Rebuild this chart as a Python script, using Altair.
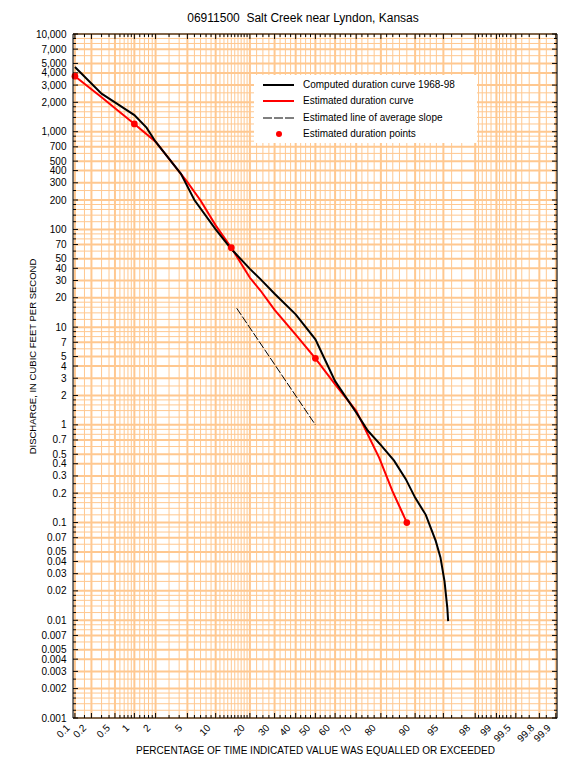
import altair as alt
import pandas as pd
from statistics import NormalDist

FONT = "Liberation Sans"
GRID = "#FFC890"

TITLE = "06911500\u00a0 Salt Creek near Lyndon, Kansas"
X_TITLE = "PERCENTAGE OF TIME INDICATED VALUE WAS EQUALLED OR EXCEEDED"
Y_TITLE = "DISCHARGE, IN CUBIC FEET PER SECOND"
legend_labels = [
    "Computed duration curve 1968-98",
    "Estimated duration curve",
    "Estimated line of average slope",
    "Estimated duration points",
]

# computed duration curve (percent exceeded, cfs)
computed_pct = [0.1, 0.3, 0.5, 1.0, 1.5, 2, 4.2, 6, 10, 14, 20, 24, 30, 40, 50, 60, 70, 75,
                80, 84.4, 87.7, 90, 92.2, 93.9, 94.6, 95.15, 95.5, 95.6]
computed_cfs = [4600, 2450, 2000, 1480, 1100, 790, 370, 200, 100, 63, 39.5, 31, 22, 13.5, 7.5,
                2.8, 1.34, 0.87, 0.62, 0.43, 0.28, 0.18, 0.12, 0.065, 0.044, 0.025, 0.0134, 0.0098]

# estimated duration curve
est_pct = [0.1, 0.3, 1, 2, 5, 7, 10, 14, 20, 24, 30, 40, 50, 60, 70, 79.4, 83.9, 86.4, 88]
est_cfs = [3700, 2250, 1200, 790, 305, 198, 110, 65, 32, 23.7, 15, 8.4, 4.8, 2.6, 1.39,
           0.46, 0.21, 0.136, 0.1]

# estimated line of average slope
slope_pct = [15.6, 50]
slope_cfs = [15.6, 1.0]

# estimated duration points
pts_pct = [0.1, 1, 14, 50, 88]
pts_cfs = [3700, 1200, 65, 4.8, 0.1]

x_major = [0.1, 0.2, 0.5, 1, 2, 5, 10, 20, 30, 40, 50, 60, 70, 80, 90, 95, 98, 99, 99.5, 99.8, 99.9]
x_minor = [0.15, 0.3, 0.4, 0.6, 0.7, 0.8, 0.9, 1.2, 1.4, 1.6, 1.8, 3, 4, 6, 7, 8, 9,
           11, 12, 13, 14, 15, 16, 17, 18, 19, 22.5, 25, 27.5, 32.5, 35, 37.5, 42.5, 45, 47.5,
           52.5, 55, 57.5, 62.5, 65, 67.5, 72.5, 75, 77.5, 82, 84, 86, 88, 91, 92, 93, 94,
           96, 97, 98.2, 98.4, 98.6, 98.8, 99.1, 99.2, 99.3, 99.4, 99.6, 99.7, 99.85]

y_major = [0.001, 0.002, 0.003, 0.004, 0.005, 0.007,
           0.01, 0.02, 0.03, 0.04, 0.05, 0.07,
           0.1, 0.2, 0.3, 0.4, 0.5, 0.7,
           1, 2, 3, 4, 5, 7,
           10, 20, 30, 40, 50, 70,
           100, 200, 300, 400, 500, 700,
           1000, 2000, 3000, 4000, 5000, 7000, 10000]
y_minor_mult = [1.2, 1.4, 1.6, 1.8, 2.5, 6, 8, 9]
y_decades = [0.001, 0.01, 0.1, 1, 10, 100, 1000]
y_minor = [m * d for d in y_decades for m in y_minor_mult]

W, H = 484, 684
nd = NormalDist()
x_major_z = [nd.inv_cdf(p / 100) for p in x_major]

XS = alt.Scale(domain=[-3.115, 3.105], nice=False, zero=False)
YS = alt.Scale(type="log", domain=[0.001, 10000], nice=False)
ZCALC = "quantileNormal(datum.p / 100)"

x_axis = alt.Axis(
    values=x_major_z,
    labelExpr="format(cumulativeNormal(datum.value) * 100, '.3~r')",
    labelAngle=-45, labelAlign="right", labelBaseline="middle",
    labelPadding=8, tickOffset=-7,
    labelFontSize=10, labelFont=FONT, labelColor="black",
    labelOverlap=False, labelFlush=False, labelBound=False,
    grid=False, ticks=False, domain=False,
    title=X_TITLE, titleFont=FONT, titleFontSize=10, titleFontWeight="normal",
    titleColor="black", titleY=27, titleBaseline="top",
)
y_axis = alt.Axis(
    values=y_major, format=",~g",
    labelPadding=7, labelFontSize=10, labelFont=FONT, labelColor="black",
    labelOverlap=False, labelFlush=False, labelBound=False,
    grid=False, ticks=False, domain=False,
    title=Y_TITLE, titleFont=FONT, titleFontSize=9.5, titleFontWeight="normal",
    titleColor="black", titleX=-36, titleY=322, titleAngle=-90, titleBaseline="bottom",
    titleAlign="center",
)


def XE():
    return alt.X("z:Q", scale=XS, axis=x_axis)


def YE():
    return alt.Y("q:Q", scale=YS, axis=y_axis)


def pct_df(vals):
    return pd.DataFrame({"p": vals})


def xgrid(vals, width):
    return (alt.Chart(pct_df(vals)).transform_calculate(z=ZCALC)
            .mark_rule(color=GRID, strokeWidth=width)
            .encode(x=XE()))


def ygrid(vals, width):
    return (alt.Chart(pd.DataFrame({"q": vals}))
            .mark_rule(color=GRID, strokeWidth=width)
            .encode(y=YE()))


def xticks(vals, length):
    df = pct_df(vals)
    bottom = (alt.Chart(df).transform_calculate(z=ZCALC).mark_rule(color="black", strokeWidth=1)
              .encode(x=XE(), y=alt.value(H), y2=alt.value(H - length)))
    top = (alt.Chart(df).transform_calculate(z=ZCALC).mark_rule(color="black", strokeWidth=1)
           .encode(x=XE(), y=alt.value(0), y2=alt.value(length)))
    return [bottom, top]


def yticks(vals, length):
    df = pd.DataFrame({"q": vals})
    left = (alt.Chart(df).mark_rule(color="black", strokeWidth=1)
            .encode(y=YE(), x=alt.value(0), x2=alt.value(length)))
    right = (alt.Chart(df).mark_rule(color="black", strokeWidth=1)
             .encode(y=YE(), x=alt.value(W), x2=alt.value(W - length)))
    return [left, right]


def series(pcts, vals):
    return alt.Chart(pd.DataFrame({"p": pcts, "q": vals})).transform_calculate(z=ZCALC)


computed = series(computed_pct, computed_cfs).mark_line(color="black", strokeWidth=2).encode(
    x=XE(), y=YE(), order="p:Q")
estimated = series(est_pct, est_cfs).mark_line(color="#FF0000", strokeWidth=2).encode(
    x=XE(), y=YE(), order="p:Q")
slope = series(slope_pct, slope_cfs).mark_line(color="black", strokeWidth=1, strokeDash=[8, 2]).encode(
    x=XE(), y=YE())
points = series(pts_pct, pts_cfs).mark_circle(color="#FF0000", size=45, opacity=1).encode(
    x=XE(), y=YE())

one = pd.DataFrame({"k": [0]})
legend_box = alt.Chart(one).mark_rect(color="white").encode(
    x=alt.value(181), x2=alt.value(404), y=alt.value(41), y2=alt.value(109))

legend_layers = []
leg_y = [51, 67, 84, 100]
sym_styles = [
    dict(color="black", strokeWidth=2),
    dict(color="#FF0000", strokeWidth=2),
    dict(color="black", strokeWidth=1, strokeDash=[9, 2]),
]
for i, lab in enumerate(legend_labels):
    df = pd.DataFrame({"label": [lab]})
    if i < 3:
        legend_layers.append(alt.Chart(df).mark_rule(**sym_styles[i]).encode(
            x=alt.value(190), x2=alt.value(221), y=alt.value(leg_y[i])))
    else:
        legend_layers.append(alt.Chart(df).mark_circle(color="#FF0000", size=36, opacity=1).encode(
            x=alt.value(206), y=alt.value(leg_y[i])))
    legend_layers.append(alt.Chart(df).mark_text(
        align="left", baseline="middle", fontSize=10, font=FONT, color="black").encode(
        x=alt.value(230), y=alt.value(leg_y[i]), text="label:N"))

frame = alt.Chart(one).mark_rect(filled=False, stroke="black", strokeWidth=1).encode(
    x=alt.value(0), x2=alt.value(W), y=alt.value(0), y2=alt.value(H))

layers = [
    xgrid(x_minor, 1), ygrid(y_minor, 1), xgrid(x_major, 2), ygrid(y_major, 2),
    *xticks(x_minor, 3), *xticks(x_major, 5), *yticks(y_minor, 3), *yticks(y_major, 5),
    legend_box, slope, estimated, computed, points, *legend_layers, frame,
]

chart = alt.layer(*layers).properties(
    width=W, height=H,
    padding={"left": 65, "top": 26, "right": 11, "bottom": 43},
    autosize=alt.AutoSizeParams(type="none"),
    title=alt.TitleParams(TITLE, font=FONT, fontSize=12, fontWeight="normal", color="black",
                          anchor="middle", offset=4, dx=-12),
).configure_view(stroke=None).configure(background="white")

chart.save("out.html", embed_options={"renderer": "svg", "actions": False})
